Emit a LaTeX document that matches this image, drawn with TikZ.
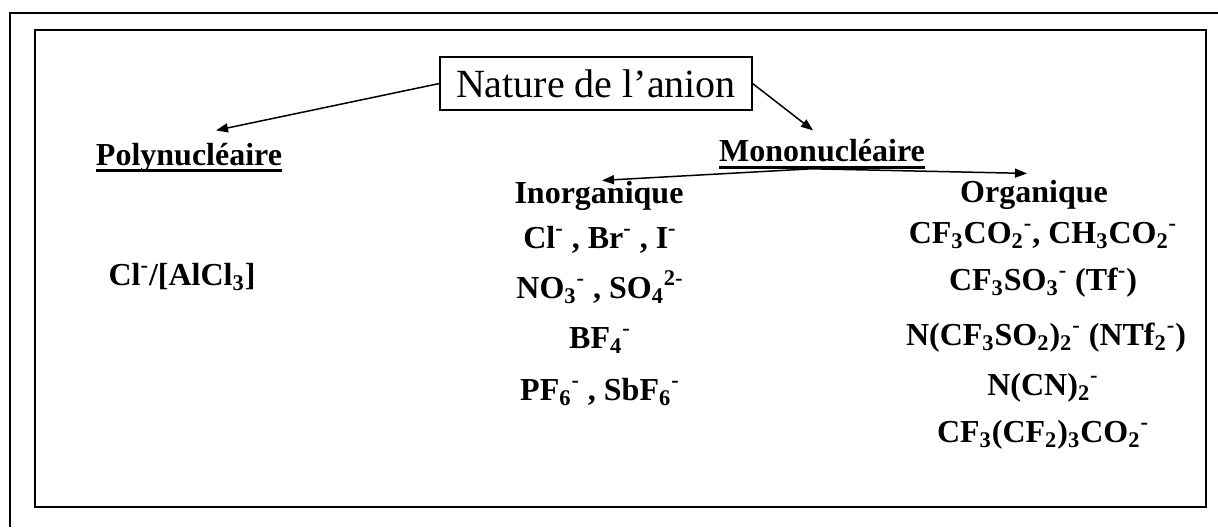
\documentclass[tikz,border=0pt]{standalone}
\usepackage{fontspec}
\setmainfont{Liberation Serif}
\usetikzlibrary{arrows.meta}
\newcommand{\bas}[1]{\textsubscript{#1}}
\newcommand{\haut}[1]{\textsuperscript{#1}}
\tikzset{
	fleche/.style={line width=0.75pt,-{Triangle[length=6pt,width=4.5pt]}},
	titre/.style={font=\fontsize{16}{19}\selectfont\bfseries,inner sep=0pt,anchor=base},
	espece/.style={font=\fontsize{16}{19}\selectfont\bfseries,inner sep=0pt,anchor=base},
	souligne/.style={line width=1.5pt}
}
\begin{document}
\begin{tikzpicture}[x=0.5pt,y=-0.5pt]
	\useasboundingbox (0,0) rectangle (1218,527);
	% cadres
	\draw[line width=0.8pt] (1218,13) -- (10,13) -- (10,527);
	\draw[line width=0.7pt] (35,30) rectangle (1206,507);
	% racine
	\node[draw,line width=0.6pt,minimum width=156pt,minimum height=26.5pt,inner sep=0pt,
		font=\fontsize{20}{24}\selectfont] (nature) at (596,83.5) {Nature de l’anion};
	% deux familles
	\node[titre] (poly) at (189,165) {Polynucléaire};
	\draw[souligne] ([yshift=-2.5pt]poly.base west) -- ([yshift=-2.5pt]poly.base east);
	\node[titre] (mono) at (822,161) {Mononucléaire};
	\draw[souligne] ([yshift=-3pt]mono.base west) -- ([yshift=-3pt]mono.base east);
	\node[titre] (inorg) at (599,203) {Inorganique};
	\node[titre] (org) at (1034,202) {Organique};
	% fleches
	\draw[fleche] (nature.west) -- ([xshift=13.5pt,yshift=6pt]poly.north);
	\draw[fleche] (nature.east) -- ([xshift=-4.5pt,yshift=4pt]mono.north);
	\draw[fleche] ([xshift=-5pt,yshift=-3.5pt]mono.south) -- ([xshift=1.5pt]inorg.north);
	\draw[fleche] ([xshift=-5pt,yshift=-3.5pt]mono.south) -- ([xshift=-3.5pt,yshift=3pt]org.north);
	% polynucleaire
	\node[espece] (alcl) at (182,285) {Cl\haut{-}/[AlCl\bas{3}]};
	% inorganiques
	\node[espece] (hal) at (600,248) {Cl\haut{-} , Br\haut{-} , I\haut{-}};
	\node[espece] (oxo) at (600,298) {NO\bas{3}\haut{-} , SO\bas{4}\haut{2-}};
	\node[espece] (bf) at (600,348) {BF\bas{4}\haut{-}};
	\node[espece] (pf) at (600,400) {PF\bas{6}\haut{-} , SbF\bas{6}\haut{-}};
	% organiques
	\node[espece] (carb) at (1043,243) {CF\bas{3}CO\bas{2}\haut{-}, CH\bas{3}CO\bas{2}\haut{-}};
	\node[espece] (tf) at (1043,290) {CF\bas{3}SO\bas{3}\haut{-} (Tf\haut{-})};
	\node[espece] (ntf) at (1046,345) {N(CF\bas{3}SO\bas{2})\bas{2}\haut{-} (NTf\bas{2}\haut{-})};
	\node[espece] (dca) at (1043,395) {N(CN)\bas{2}\haut{-}};
	\node[espece] (perf) at (1043,442) {CF\bas{3}(CF\bas{2})\bas{3}CO\bas{2}\haut{-}};
\end{tikzpicture}
\end{document}
